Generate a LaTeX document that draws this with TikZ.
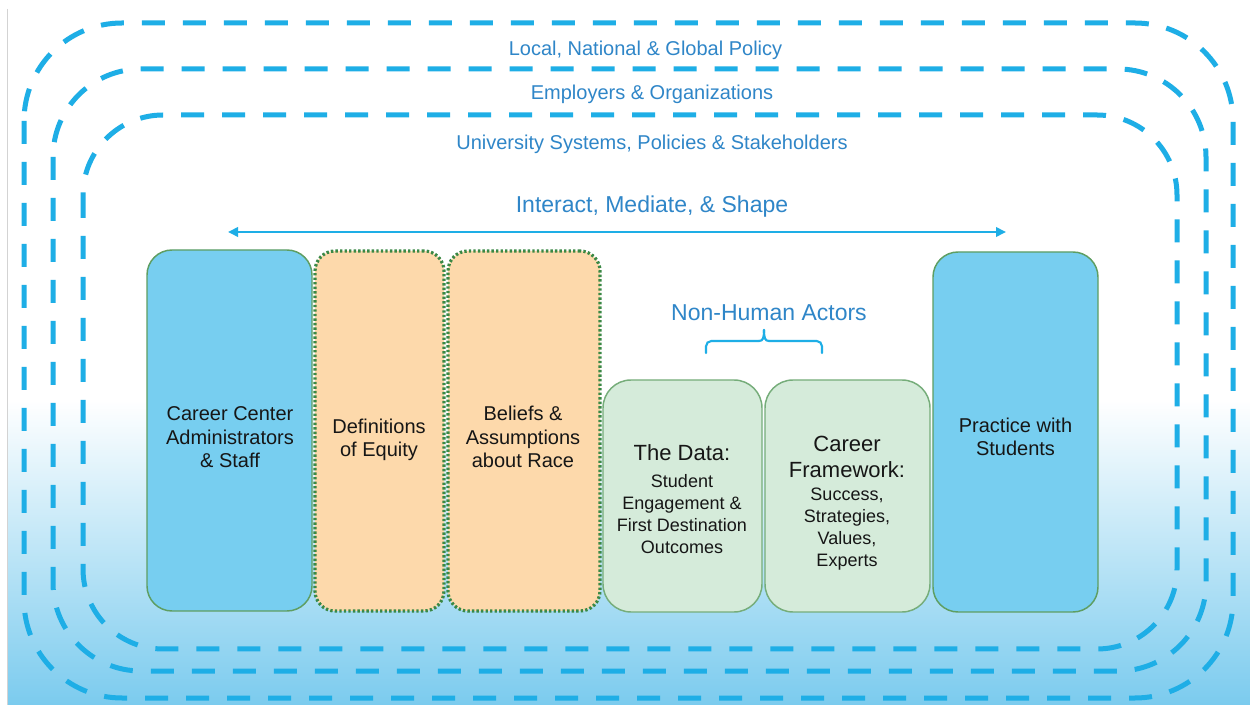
\documentclass[tikz,border=0pt]{standalone}
\usepackage{fontspec}
\setmainfont{Liberation Sans}
\usetikzlibrary{arrows.meta,fit}

\definecolor{dashblue}{HTML}{1EAEE6}
\definecolor{labelblue}{HTML}{2F86C8}
\definecolor{boxblue}{HTML}{77CEF0}
\definecolor{boxorange}{HTML}{FDD9AB}
\definecolor{boxgreen}{HTML}{D5EBDA}
\definecolor{edgegreen}{HTML}{5E9E62}
\definecolor{dotgreen}{HTML}{3A8845}
\definecolor{skyblue}{HTML}{7BCBEE}
\definecolor{framegrey}{HTML}{D3D3D3}
\definecolor{inktext}{HTML}{161616}

% type sizes for the two-level captions in the green columns
\newcommand{\headsz}{\fontsize{16.5}{20}\selectfont}
\newcommand{\detailsz}{\fontsize{13.5}{16.5}\selectfont}

\begin{document}
\begin{tikzpicture}[x=0.75pt,y=-0.75pt,
  ring/.style={draw=dashblue, line width=3.75pt, dash pattern=on 17.25pt off 13.5pt},
  layerlabel/.style={text=labelblue, font=\fontsize{15}{18}\selectfont, inner sep=0pt, anchor=base},
  bigtag/.style={text=labelblue, font=\fontsize{17.25}{20}\selectfont, inner sep=0pt, anchor=base},
  flow/.style={draw=dashblue, line width=1.9pt, {Triangle[length=7.5pt,width=7pt]}-{Triangle[length=7.5pt,width=7pt]}},
  actorbox/.style={draw=edgegreen, line width=1.1pt, fill=boxblue, rounded corners=18.75pt, inner sep=0pt},
  ideabox/.style={draw=dotgreen, line width=2.4pt, dash pattern=on 1.8pt off 1.6pt, fill=boxorange, rounded corners=15pt, inner sep=0pt},
  thingbox/.style={draw=edgegreen!85!white, line width=1.1pt, fill=boxgreen, rounded corners=21pt, inner sep=0pt},
  boxtext/.style={text=inktext, align=center, inner sep=0pt, font=\fontsize{15}{17.6}\selectfont},
  detailtext/.style={text=inktext, align=center, inner sep=0pt, font=\detailsz},
  bracestroke/.style={draw=dashblue, line width=1.6pt, line cap=round}
]
\useasboundingbox (0,0) rectangle (1250,705);

% background: white fading into sky blue towards the bottom
\fill[white] (0,0) rectangle (1250,705);
\shade[top color=white, bottom color=skyblue] (8,400) rectangle (1250,705);
\draw[framegrey, line width=1.2pt] (7.5,9) -- (7.5,705);

% nested dashed context rings
\draw[ring, rounded corners=73.5pt] (24,23) rectangle (1233,698);
\draw[ring, rounded corners=66pt] (53,69) rectangle (1206,671);
\draw[ring, rounded corners=60pt] (83,115) rectangle (1177,649);

% ring captions
\node[layerlabel] (policy) at (645.5,56) {Local, National \& Global Policy};
\node[layerlabel] (employers) at (652,100) {Employers \& Organizations};
\node[layerlabel] (university) at (652,150) {University Systems, Policies \& Stakeholders};

% interaction arrow
\node[bigtag] (interact) at (652,213) {Interact, Mediate, \& Shape};
\coordinate (arrL) at (228,232);
\coordinate (arrR) at (1006,232);
\draw[flow] (arrL) -- (arrR);

% actor and idea columns
\node[actorbox, fit={(147,250) (312,611)}] (staff) {};
\node[ideabox, fit={(315,251) (444,611)}] (equity) {};
\node[ideabox, fit={(448,251) (600,611)}] (beliefs) {};
\node[thingbox, fit={(603,380) (762,612)}] (data) {};
\node[thingbox, fit={(765,380) (930,612)}] (framework) {};
\node[actorbox, fit={(933,252) (1098,612)}] (practice) {};

\node[boxtext] (staffT) at (230,437.5) {Career Center\\Administrators\\\& Staff};
\node[boxtext] (equityT) at (379,440) {Definitions\\of Equity};
\node[boxtext] (beliefsT) at (523,437) {Beliefs \&\\Assumptions\\about Race};
\node[detailtext] (dataT) at (682,499.5) {\headsz The Data:\\[3.75pt]
  \detailsz Student\\\detailsz Engagement \&\\\detailsz First Destination\\\detailsz Outcomes};
\node[detailtext] (frameworkT) at (847,503) {\headsz Career\\[3pt]\headsz Framework:\\[0.75pt]
  \detailsz Success,\\\detailsz Strategies,\\\detailsz Values,\\\detailsz Experts};
\node[boxtext] (practiceT) at (1015.5,437) {Practice with\\Students};

% non-human actors brace
\node[bigtag] (nonhuman) at (769,321) {Non-Human Actors};
\coordinate (braceL) at (706,353);
\coordinate (braceR) at (822,353);
\coordinate (braceTip) at (764,330);
\draw[bracestroke, rounded corners=4pt] (braceL) |- (759,341);
\draw[bracestroke] (759,341) .. controls (763,341) and (764,338) .. (braceTip);
\draw[bracestroke] (braceTip) .. controls (764,338) and (765,341) .. (769,341);
\draw[bracestroke, rounded corners=4pt] (769,341) -| (braceR);
\end{tikzpicture}
\end{document}
